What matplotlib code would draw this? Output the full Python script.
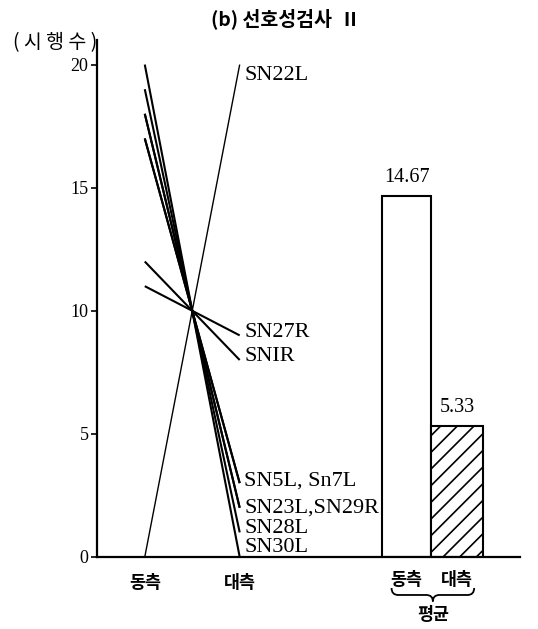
import matplotlib
matplotlib.use('Agg')
import matplotlib.pyplot as plt
from matplotlib.path import Path
from matplotlib.patches import PathPatch
import matplotlib.transforms as mtransforms
import numpy as np

plt.rcParams['font.family'] = ['Liberation Serif', 'Noto Sans CJK KR', 'DejaVu Sans']
plt.rcParams['hatch.linewidth'] = 1.2

KR = ['Noto Sans CJK KR', 'DejaVu Sans']

# 개체별 시행수 (동측 / 대측)
subjects = ['SN22L', 'SN27R', 'SNIR', 'SN5L', 'Sn7L', 'SN23L', 'SN29R', 'SN28L', 'SN30L']
ipsi = [0, 11, 12, 17, 17, 18, 18, 19, 20]
contra = [20, 9, 8, 3, 3, 2, 2, 1, 0]

# 오른쪽 끝 라벨 (겹치는 개체는 묶음)
label_texts = ['SN22L', 'SN27R', 'SNIR', 'SN5L, Sn7L', 'SN23L,SN29R', 'SN28L', 'SN30L']
label_index = [0, 1, 2, 3, 5, 7, 8]
label_shift = [-0.45, 0.1, 0.15, 0.1, 0.0, 0.15, 0.4]

side_labels = ['동측', '대측']
mean_vals = [np.mean(ipsi), np.mean(contra)]

fig = plt.figure(figsize=(5.38, 6.29), dpi=100)
ax = fig.add_axes([0.180, 0.1145, 0.786, 0.822])
ax.set_xlim(0.495, 4.95)
ax.set_ylim(0, 21)

# 개체별 선
for i, (a, b) in enumerate(zip(ipsi, contra)):
    lw = 1.0 if a == 0 else 1.5
    ax.plot([1, 2], [a, b], color='black', lw=lw, solid_capstyle='butt')

for txt, idx, dy in zip(label_texts, label_index, label_shift):
    ax.text(2.05, contra[idx] + dy, txt, ha='left', va='center', fontsize=16,
            family='Liberation Serif')

# 평균 막대
bx = [3.76, 4.29]
ax.bar(bx[0], mean_vals[0], width=0.52, facecolor='white', edgecolor='black', lw=1.5)
ax.bar(bx[1], mean_vals[1], width=0.54, facecolor='white', edgecolor='black', lw=1.5,
       hatch='//')
for x, v in zip(bx, mean_vals):
    ax.text(x, v + 0.35, f'{v:.2f}', ha='center', va='bottom', fontsize=14.5,
            family='Liberation Serif')

# 축
for s in ['top', 'right']:
    ax.spines[s].set_visible(False)
ax.spines['left'].set_linewidth(1.6)
ax.spines['bottom'].set_linewidth(1.6)
ax.set_yticks([0, 5, 10, 15, 20])
ax.tick_params(axis='y', direction='out', length=4, width=1.2, labelsize=13, pad=2)
ax.set_xticks([1, 2, bx[0], bx[1]])
ax.set_xticklabels(side_labels + side_labels, family=KR, fontweight='bold', fontsize=12.5)
ax.tick_params(axis='x', length=0, pad=12)
for lab in ax.get_xticklabels()[2:]:
    lab.set_y(0.006)

# 평균 중괄호
trans = mtransforms.blended_transform_factory(ax.transData, ax.transAxes)
x0, x1 = 3.60, 4.47
xm = (x0 + x1) / 2
r = 0.07
yt, ym, yp = -0.060, -0.0735, -0.086
verts = [(x0, yt), (x0, ym), (x0 + r, ym), (xm - r, ym), (xm, ym), (xm, yp),
         (xm, ym), (xm + r, ym), (x1 - r, ym), (x1, ym), (x1, yt)]
codes = [Path.MOVETO, Path.CURVE3, Path.CURVE3, Path.LINETO, Path.CURVE3, Path.CURVE3,
         Path.CURVE3, Path.CURVE3, Path.LINETO, Path.CURVE3, Path.CURVE3]
ax.add_patch(PathPatch(Path(verts, codes), transform=trans, fill=False, lw=1.3,
                       clip_on=False))
ax.text(xm, -0.112, '평균', transform=trans, ha='center', va='center', family=KR,
        fontweight='bold', fontsize=12.5)

fig.text(0.102, 0.933, '( 시 행 수 )', ha='center', va='center', family=KR, fontsize=14)
fig.text(0.53, 0.971, '(b) 선호성검사  Ⅱ', ha='center', va='center', family=KR,
         fontweight='bold', fontsize=14)

fig.savefig('out.png', dpi=100, facecolor='white')
